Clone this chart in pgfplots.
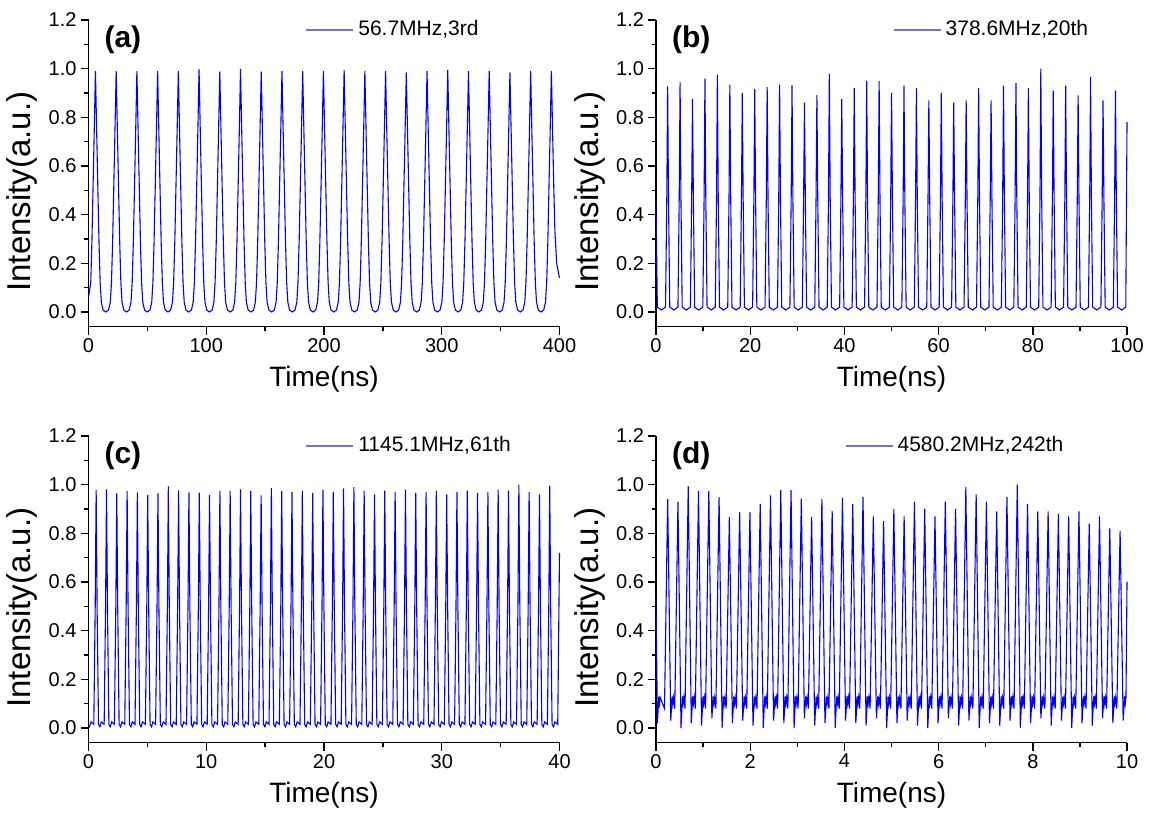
\documentclass[border=0pt]{standalone}
\usepackage{fontspec}
\setmainfont{Liberation Sans}
\usepackage{pgfplots}
\pgfplotsset{compat=1.18}
\definecolor{legblue}{RGB}{110,110,255}

\pgfplotsset{
  panel/.style={
    width=235.5pt, height=153.3pt, scale only axis,
    axis x line*=bottom, axis y line*=left,
    axis line style={line width=0.8pt, black},
    ymin=-0.06, ymax=1.2, ytick={0,0.2,...,1.2},
    minor y tick num=1, minor x tick num=1,
    tick align=outside, major tick length=4pt, minor tick length=2.25pt,
    every tick/.style={black, line width=0.7pt},
    tick label style={font=\fontsize{10}{12}\selectfont},
    xticklabel shift=-1.8pt, yticklabel shift=-1.5pt,
    /pgf/number format/assume math mode=true,
    yticklabel style={/pgf/number format/fixed, /pgf/number format/fixed zerofill, /pgf/number format/precision=1},
    xlabel={Time(ns)}, ylabel={Intensity(a.u.)},
    xlabel style={at={(axis description cs:0.5,-0.173)}, anchor=center, font=\fontsize{14}{16}\selectfont},
    ylabel style={at={(axis description cs:-0.141,0.44)}, anchor=center, font=\fontsize{16.5}{18}\selectfont},
    legend style={draw=none, fill=none, inner sep=0pt,
      font=\fontsize{10.5}{12}\selectfont, anchor=west},
    legend image code/.code={\draw[color=legblue, line width=0.9pt] (0pt,0pt) -- (23.5pt,0pt);},
    clip=false,
  },
  trace/.style={blue, line width=0.55pt},
}
\tikzset{tag/.style={anchor=west, font=\bfseries\fontsize{15}{17}\selectfont}}

\begin{document}
\begin{tikzpicture}
\useasboundingbox (0,0) rectangle (574.5pt,416.5pt);

% (a) 56.7 MHz
\begin{axis}[panel, at={(44.25pt,253.2pt)}, anchor=south west,
  xmin=0, xmax=400, xtick={0,100,...,400},
  legend style={at={(axis description cs:0.46,0.968)}}]
\addplot[trace] coordinates {
(0,0.06)(1.9,0.12)(2.9,0.29)(3.9,0.52)(4.9,0.75)(5.9,0.99)(6.9,0.75)(7.9,0.52)(8.9,0.29)(9.9,0.12)(10.9,0.04)(12.4,0.008)(14.7,0)
(17.0,0.008)(18.5,0.04)(19.5,0.12)(20.5,0.29)(21.5,0.52)(22.5,0.75)(23.5,0.99)(24.5,0.75)(25.5,0.52)(26.5,0.29)(27.5,0.12)(28.5,0.04)(30.0,0.008)(32.3,0)
(34.6,0.008)(36.1,0.04)(37.1,0.12)(38.1,0.29)(39.1,0.52)(40.1,0.75)(41.1,0.99)(42.1,0.75)(43.1,0.52)(44.1,0.29)(45.1,0.12)(46.1,0.04)(47.6,0.008)(49.9,0)
(52.2,0.008)(53.7,0.04)(54.7,0.12)(55.7,0.29)(56.7,0.52)(57.7,0.75)(58.7,0.99)(59.7,0.75)(60.7,0.52)(61.7,0.29)(62.7,0.12)(63.7,0.04)(65.2,0.008)(67.5,0)
(69.8,0.008)(71.3,0.04)(72.3,0.12)(73.3,0.29)(74.3,0.52)(75.3,0.75)(76.3,0.99)(77.3,0.75)(78.3,0.52)(79.3,0.29)(80.3,0.12)(81.3,0.04)(82.8,0.008)(85.1,0)
(87.4,0.008)(88.9,0.04)(89.9,0.12)(90.9,0.29)(91.9,0.52)(92.9,0.75)(93.9,0.998)(94.9,0.75)(95.9,0.52)(96.9,0.29)(97.9,0.12)(98.9,0.04)(100.4,0.008)(102.7,0)
(105.0,0.008)(106.5,0.04)(107.5,0.12)(108.5,0.29)(109.5,0.52)(110.5,0.75)(111.5,0.988)(112.5,0.75)(113.5,0.52)(114.5,0.29)(115.5,0.12)(116.5,0.04)(118.0,0.008)(120.3,0)
(122.6,0.008)(124.1,0.04)(125.1,0.12)(126.1,0.29)(127.1,0.52)(128.1,0.75)(129.1,0.998)(130.1,0.75)(131.1,0.52)(132.1,0.29)(133.1,0.12)(134.1,0.04)(135.6,0.008)(137.9,0)
(140.2,0.008)(141.7,0.04)(142.7,0.12)(143.7,0.29)(144.7,0.52)(145.7,0.75)(146.7,0.988)(147.7,0.75)(148.7,0.52)(149.7,0.29)(150.7,0.12)(151.7,0.04)(153.2,0.008)(155.5,0)
(157.8,0.008)(159.3,0.04)(160.3,0.12)(161.3,0.29)(162.3,0.52)(163.3,0.75)(164.3,0.99)(165.3,0.75)(166.3,0.52)(167.3,0.29)(168.3,0.12)(169.3,0.04)(170.8,0.008)(173.1,0)
(175.4,0.008)(176.9,0.04)(177.9,0.12)(178.9,0.29)(179.9,0.52)(180.9,0.75)(181.9,0.99)(182.9,0.75)(183.9,0.52)(184.9,0.29)(185.9,0.12)(186.9,0.04)(188.4,0.008)(190.7,0)
(193.0,0.008)(194.5,0.04)(195.5,0.12)(196.5,0.29)(197.5,0.52)(198.5,0.75)(199.5,0.99)(200.5,0.75)(201.5,0.52)(202.5,0.29)(203.5,0.12)(204.5,0.04)(206.0,0.008)(208.3,0)
(210.6,0.008)(212.1,0.04)(213.1,0.12)(214.1,0.29)(215.1,0.52)(216.1,0.75)(217.1,0.995)(218.1,0.75)(219.1,0.52)(220.1,0.29)(221.1,0.12)(222.1,0.04)(223.6,0.008)(225.9,0)
(228.2,0.008)(229.7,0.04)(230.7,0.12)(231.7,0.29)(232.7,0.52)(233.7,0.75)(234.7,0.99)(235.7,0.75)(236.7,0.52)(237.7,0.29)(238.7,0.12)(239.7,0.04)(241.2,0.008)(243.5,0)
(245.8,0.008)(247.3,0.04)(248.3,0.12)(249.3,0.29)(250.3,0.52)(251.3,0.75)(252.3,0.99)(253.3,0.75)(254.3,0.52)(255.3,0.29)(256.3,0.12)(257.3,0.04)(258.8,0.008)(261.1,0)
(263.4,0.008)(264.9,0.04)(265.9,0.12)(266.9,0.29)(267.9,0.52)(268.9,0.75)(269.9,0.985)(270.9,0.75)(271.9,0.52)(272.9,0.29)(273.9,0.12)(274.9,0.04)(276.4,0.008)(278.7,0)
(281.0,0.008)(282.5,0.04)(283.5,0.12)(284.5,0.29)(285.5,0.52)(286.5,0.75)(287.5,0.99)(288.5,0.75)(289.5,0.52)(290.5,0.29)(291.5,0.12)(292.5,0.04)(294.0,0.008)(296.3,0)
(298.6,0.008)(300.1,0.04)(301.1,0.12)(302.1,0.29)(303.1,0.52)(304.1,0.75)(305.1,0.995)(306.1,0.75)(307.1,0.52)(308.1,0.29)(309.1,0.12)(310.1,0.04)(311.6,0.008)(313.9,0)
(316.2,0.008)(317.7,0.04)(318.7,0.12)(319.7,0.29)(320.7,0.52)(321.7,0.75)(322.7,0.99)(323.7,0.75)(324.7,0.52)(325.7,0.29)(326.7,0.12)(327.7,0.04)(329.2,0.008)(331.5,0)
(333.8,0.008)(335.3,0.04)(336.3,0.12)(337.3,0.29)(338.3,0.52)(339.3,0.75)(340.3,0.99)(341.3,0.75)(342.3,0.52)(343.3,0.29)(344.3,0.12)(345.3,0.04)(346.8,0.008)(349.1,0)
(351.4,0.008)(352.9,0.04)(353.9,0.12)(354.9,0.29)(355.9,0.52)(356.9,0.75)(357.9,0.985)(358.9,0.75)(359.9,0.52)(360.9,0.29)(361.9,0.12)(362.9,0.04)(364.4,0.008)(366.7,0)
(369.0,0.008)(370.5,0.04)(371.5,0.12)(372.5,0.29)(373.5,0.52)(374.5,0.75)(375.5,0.99)(376.5,0.75)(377.5,0.52)(378.5,0.29)(379.5,0.12)(380.5,0.04)(382.0,0.008)(384.3,0)
(386.6,0.008)(388.1,0.04)(389.1,0.12)(390.1,0.29)(391.1,0.52)(392.1,0.75)(393.1,0.99)(394.1,0.75)(395.1,0.52)(396.1,0.33)(397.6,0.20)(400,0.14)
};
\addlegendentry{56.7MHz,3rd}
\node[tag] at (axis description cs:0.019,0.935) {(a)};
\end{axis}

% (b) 378.6 MHz
\begin{axis}[panel, at={(328pt,253.2pt)}, anchor=south west,
  xmin=0, xmax=100, xtick={0,20,...,100},
  legend style={at={(axis description cs:0.502,0.968)}}]
\addplot[trace] coordinates {
(0,0.45)(0.28,0.02)(1.15,0.008)
(2.02,0.02)(2.29,0.47)(2.47,0.927)(2.65,0.47)(2.92,0.02)(3.79,0.008)
(4.66,0.02)(4.93,0.47)(5.11,0.944)(5.29,0.47)(5.56,0.02)(6.43,0.008)
(7.30,0.02)(7.57,0.47)(7.75,0.875)(7.93,0.47)(8.20,0.02)(9.07,0.008)
(9.94,0.02)(10.21,0.47)(10.39,0.959)(10.57,0.47)(10.84,0.02)(11.71,0.008)
(12.58,0.02)(12.85,0.47)(13.03,0.975)(13.21,0.47)(13.48,0.02)(14.35,0.008)
(15.23,0.02)(15.50,0.47)(15.68,0.934)(15.86,0.47)(16.13,0.02)(17.00,0.008)
(17.87,0.02)(18.14,0.47)(18.32,0.90)(18.50,0.47)(18.77,0.02)(19.64,0.008)
(20.51,0.02)(20.78,0.47)(20.96,0.916)(21.14,0.47)(21.41,0.02)(22.28,0.008)
(23.15,0.02)(23.42,0.47)(23.60,0.925)(23.78,0.47)(24.05,0.02)(24.92,0.008)
(25.79,0.02)(26.06,0.47)(26.24,0.934)(26.42,0.47)(26.69,0.02)(27.56,0.008)
(28.43,0.02)(28.70,0.47)(28.88,0.931)(29.06,0.47)(29.33,0.02)(30.20,0.008)
(31.07,0.02)(31.34,0.47)(31.52,0.86)(31.70,0.47)(31.97,0.02)(32.84,0.008)
(33.71,0.02)(33.98,0.47)(34.16,0.891)(34.34,0.47)(34.61,0.02)(35.48,0.008)
(36.35,0.02)(36.62,0.47)(36.80,0.979)(36.98,0.47)(37.25,0.02)(38.12,0.008)
(38.99,0.02)(39.26,0.47)(39.44,0.875)(39.62,0.47)(39.89,0.02)(40.76,0.008)
(41.64,0.02)(41.91,0.47)(42.09,0.92)(42.27,0.47)(42.54,0.02)(43.41,0.008)
(44.28,0.02)(44.55,0.47)(44.73,0.95)(44.91,0.47)(45.18,0.02)(46.05,0.008)
(46.92,0.02)(47.19,0.47)(47.37,0.95)(47.55,0.47)(47.82,0.02)(48.69,0.008)
(49.56,0.02)(49.83,0.47)(50.01,0.90)(50.19,0.47)(50.46,0.02)(51.33,0.008)
(52.20,0.02)(52.47,0.47)(52.65,0.93)(52.83,0.47)(53.10,0.02)(53.97,0.008)
(54.84,0.02)(55.11,0.47)(55.29,0.92)(55.47,0.47)(55.74,0.02)(56.61,0.008)
(57.48,0.02)(57.75,0.47)(57.93,0.87)(58.11,0.47)(58.38,0.02)(59.25,0.008)
(60.12,0.02)(60.39,0.47)(60.57,0.90)(60.75,0.47)(61.02,0.02)(61.89,0.008)
(62.76,0.02)(63.03,0.47)(63.21,0.86)(63.39,0.47)(63.66,0.02)(64.53,0.008)
(65.40,0.02)(65.67,0.47)(65.85,0.87)(66.03,0.47)(66.30,0.02)(67.17,0.008)
(68.05,0.02)(68.32,0.47)(68.50,0.92)(68.68,0.47)(68.95,0.02)(69.82,0.008)
(70.69,0.02)(70.96,0.47)(71.14,0.87)(71.32,0.47)(71.59,0.02)(72.46,0.008)
(73.33,0.02)(73.60,0.47)(73.78,0.93)(73.96,0.47)(74.23,0.02)(75.10,0.008)
(75.97,0.02)(76.24,0.47)(76.42,0.94)(76.60,0.47)(76.87,0.02)(77.74,0.008)
(78.61,0.02)(78.88,0.47)(79.06,0.92)(79.24,0.47)(79.51,0.02)(80.38,0.008)
(81.25,0.02)(81.52,0.47)(81.70,1.0)(81.88,0.47)(82.15,0.02)(83.02,0.008)
(83.89,0.02)(84.16,0.47)(84.34,0.91)(84.52,0.47)(84.79,0.02)(85.66,0.008)
(86.53,0.02)(86.80,0.47)(86.98,0.93)(87.16,0.47)(87.43,0.02)(88.30,0.008)
(89.17,0.02)(89.44,0.47)(89.62,0.89)(89.80,0.47)(90.07,0.02)(90.94,0.008)
(91.81,0.02)(92.08,0.47)(92.26,0.965)(92.44,0.47)(92.71,0.02)(93.58,0.008)
(94.46,0.02)(94.73,0.47)(94.91,0.87)(95.09,0.47)(95.36,0.02)(96.23,0.008)
(97.10,0.02)(97.37,0.47)(97.55,0.91)(97.73,0.47)(98.00,0.02)(98.87,0.008)
(99.74,0.02)(100,0.78)
};
\addlegendentry{378.6MHz,20th}
\node[tag] at (axis description cs:0.019,0.935) {(b)};
\end{axis}

% (c) 1145.1 MHz
\begin{axis}[panel, at={(44.25pt,45.2pt)}, anchor=south west,
  xmin=0, xmax=40, xtick={0,10,...,40},
  legend style={at={(axis description cs:0.46,0.968)}}]
\addplot[trace] coordinates {
(0,0.01)(0.09,0.005)(0.21,0.025)
(0.45,0.015)(0.57,0.5)(0.65,0.979)(0.73,0.5)(0.85,0.015)(0.97,0.005)(1.09,0.025)
(1.33,0.015)(1.45,0.5)(1.53,0.981)(1.61,0.5)(1.73,0.015)(1.85,0.005)(1.97,0.025)
(2.20,0.015)(2.32,0.5)(2.40,0.964)(2.48,0.5)(2.60,0.015)(2.72,0.005)(2.84,0.025)
(3.08,0.015)(3.20,0.5)(3.28,0.974)(3.36,0.5)(3.48,0.015)(3.60,0.005)(3.72,0.025)
(3.95,0.015)(4.07,0.5)(4.15,0.967)(4.23,0.5)(4.35,0.015)(4.47,0.005)(4.59,0.025)
(4.83,0.015)(4.95,0.5)(5.03,0.958)(5.11,0.5)(5.23,0.015)(5.35,0.005)(5.47,0.025)
(5.70,0.015)(5.82,0.5)(5.90,0.964)(5.98,0.5)(6.10,0.015)(6.22,0.005)(6.34,0.025)
(6.58,0.015)(6.70,0.5)(6.78,0.993)(6.86,0.5)(6.98,0.015)(7.10,0.005)(7.22,0.025)
(7.45,0.015)(7.57,0.5)(7.65,0.977)(7.73,0.5)(7.85,0.015)(7.97,0.005)(8.09,0.025)
(8.33,0.015)(8.45,0.5)(8.53,0.968)(8.61,0.5)(8.73,0.015)(8.85,0.005)(8.97,0.025)
(9.21,0.015)(9.33,0.5)(9.41,0.967)(9.49,0.5)(9.61,0.015)(9.73,0.005)(9.85,0.025)
(10.08,0.015)(10.20,0.5)(10.28,0.958)(10.36,0.5)(10.48,0.015)(10.60,0.005)(10.72,0.025)
(10.96,0.015)(11.08,0.5)(11.16,0.974)(11.24,0.5)(11.36,0.015)(11.48,0.005)(11.60,0.025)
(11.83,0.015)(11.95,0.5)(12.03,0.974)(12.11,0.5)(12.23,0.015)(12.35,0.005)(12.47,0.025)
(12.71,0.015)(12.83,0.5)(12.91,0.981)(12.99,0.5)(13.11,0.015)(13.23,0.005)(13.35,0.025)
(13.58,0.015)(13.70,0.5)(13.78,0.974)(13.86,0.5)(13.98,0.015)(14.10,0.005)(14.22,0.025)
(14.46,0.015)(14.58,0.5)(14.66,0.956)(14.74,0.5)(14.86,0.015)(14.98,0.005)(15.10,0.025)
(15.33,0.015)(15.45,0.5)(15.53,0.986)(15.61,0.5)(15.73,0.015)(15.85,0.005)(15.97,0.025)
(16.21,0.015)(16.33,0.5)(16.41,0.973)(16.49,0.5)(16.61,0.015)(16.73,0.005)(16.85,0.025)
(17.08,0.015)(17.20,0.5)(17.28,0.97)(17.36,0.5)(17.48,0.015)(17.60,0.005)(17.72,0.025)
(17.96,0.015)(18.08,0.5)(18.16,0.975)(18.24,0.5)(18.36,0.015)(18.48,0.005)(18.60,0.025)
(18.84,0.015)(18.96,0.5)(19.04,0.965)(19.12,0.5)(19.24,0.015)(19.36,0.005)(19.48,0.025)
(19.71,0.015)(19.83,0.5)(19.91,0.98)(19.99,0.5)(20.11,0.015)(20.23,0.005)(20.35,0.025)
(20.59,0.015)(20.71,0.5)(20.79,0.97)(20.87,0.5)(20.99,0.015)(21.11,0.005)(21.23,0.025)
(21.46,0.015)(21.58,0.5)(21.66,0.985)(21.74,0.5)(21.86,0.015)(21.98,0.005)(22.10,0.025)
(22.34,0.015)(22.46,0.5)(22.54,0.99)(22.62,0.5)(22.74,0.015)(22.86,0.005)(22.98,0.025)
(23.21,0.015)(23.33,0.5)(23.41,0.975)(23.49,0.5)(23.61,0.015)(23.73,0.005)(23.85,0.025)
(24.09,0.015)(24.21,0.5)(24.29,0.96)(24.37,0.5)(24.49,0.015)(24.61,0.005)(24.73,0.025)
(24.96,0.015)(25.08,0.5)(25.16,0.975)(25.24,0.5)(25.36,0.015)(25.48,0.005)(25.60,0.025)
(25.84,0.015)(25.96,0.5)(26.04,0.97)(26.12,0.5)(26.24,0.015)(26.36,0.005)(26.48,0.025)
(26.72,0.015)(26.84,0.5)(26.92,0.98)(27.00,0.5)(27.12,0.015)(27.24,0.005)(27.36,0.025)
(27.59,0.015)(27.71,0.5)(27.79,0.965)(27.87,0.5)(27.99,0.015)(28.11,0.005)(28.23,0.025)
(28.47,0.015)(28.59,0.5)(28.67,0.97)(28.75,0.5)(28.87,0.015)(28.99,0.005)(29.11,0.025)
(29.34,0.015)(29.46,0.5)(29.54,0.975)(29.62,0.5)(29.74,0.015)(29.86,0.005)(29.98,0.025)
(30.22,0.015)(30.34,0.5)(30.42,0.96)(30.50,0.5)(30.62,0.015)(30.74,0.005)(30.86,0.025)
(31.09,0.015)(31.21,0.5)(31.29,0.97)(31.37,0.5)(31.49,0.015)(31.61,0.005)(31.73,0.025)
(31.97,0.015)(32.09,0.5)(32.17,0.975)(32.25,0.5)(32.37,0.015)(32.49,0.005)(32.61,0.025)
(32.84,0.015)(32.96,0.5)(33.04,0.965)(33.12,0.5)(33.24,0.015)(33.36,0.005)(33.48,0.025)
(33.72,0.015)(33.84,0.5)(33.92,0.97)(34.00,0.5)(34.12,0.015)(34.24,0.005)(34.36,0.025)
(34.59,0.015)(34.71,0.5)(34.79,0.98)(34.87,0.5)(34.99,0.015)(35.11,0.005)(35.23,0.025)
(35.47,0.015)(35.59,0.5)(35.67,0.975)(35.75,0.5)(35.87,0.015)(35.99,0.005)(36.11,0.025)
(36.35,0.015)(36.47,0.5)(36.55,1.0)(36.63,0.5)(36.75,0.015)(36.87,0.005)(36.99,0.025)
(37.22,0.015)(37.34,0.5)(37.42,0.97)(37.50,0.5)(37.62,0.015)(37.74,0.005)(37.86,0.025)
(38.10,0.015)(38.22,0.5)(38.30,0.96)(38.38,0.5)(38.50,0.015)(38.62,0.005)(38.74,0.025)
(38.97,0.015)(39.09,0.5)(39.17,0.995)(39.25,0.5)(39.37,0.015)(39.49,0.005)(39.61,0.025)
(39.85,0.015)(40,0.72)
};
\addlegendentry{1145.1MHz,61th}
\node[tag] at (axis description cs:0.019,0.935) {(c)};
\end{axis}

% (d) 4580.2 MHz
\begin{axis}[panel, at={(328pt,45.2pt)}, anchor=south west,
  xmin=0, xmax=10, xtick={0,2,...,10},
  legend style={at={(axis description cs:0.40,0.968)}}]
\addplot[trace] coordinates {
(0,0.53)(0.03,0.02)(0.06,0.13)(0.075,0.10)(0.09,0.125)(0.18,0.08)
(0.248,0.942)(0.313,0.03)(0.343,0.13)(0.358,0.10)(0.373,0.125)(0.398,0.08)
(0.466,0.929)(0.531,0.0)(0.561,0.13)(0.576,0.10)(0.591,0.125)(0.616,0.08)
(0.684,0.993)(0.749,0.02)(0.779,0.13)(0.794,0.10)(0.809,0.125)(0.834,0.08)
(0.902,0.974)(0.967,0.01)(0.997,0.13)(1.012,0.10)(1.027,0.125)(1.052,0.08)
(1.121,0.974)(1.186,0.04)(1.216,0.13)(1.231,0.10)(1.246,0.125)(1.271,0.08)
(1.339,0.949)(1.404,0.0)(1.434,0.13)(1.449,0.10)(1.464,0.125)(1.489,0.08)
(1.557,0.867)(1.622,0.02)(1.652,0.13)(1.667,0.10)(1.682,0.125)(1.707,0.08)
(1.776,0.887)(1.841,0.03)(1.871,0.13)(1.886,0.10)(1.901,0.125)(1.926,0.08)
(1.994,0.887)(2.059,0.01)(2.089,0.13)(2.104,0.10)(2.119,0.125)(2.144,0.08)
(2.212,0.921)(2.277,0.0)(2.307,0.13)(2.322,0.10)(2.337,0.125)(2.362,0.08)
(2.431,0.956)(2.496,0.03)(2.526,0.13)(2.541,0.10)(2.556,0.125)(2.581,0.08)
(2.649,0.977)(2.714,0.02)(2.744,0.13)(2.759,0.10)(2.774,0.125)(2.799,0.08)
(2.867,0.977)(2.932,0.0)(2.962,0.13)(2.977,0.10)(2.992,0.125)(3.017,0.08)
(3.085,0.943)(3.150,0.04)(3.180,0.13)(3.195,0.10)(3.210,0.125)(3.235,0.08)
(3.304,0.868)(3.369,0.01)(3.399,0.13)(3.414,0.10)(3.429,0.125)(3.454,0.08)
(3.522,0.942)(3.587,0.02)(3.617,0.13)(3.632,0.10)(3.647,0.125)(3.672,0.08)
(3.740,0.892)(3.805,0.0)(3.835,0.13)(3.850,0.10)(3.865,0.125)(3.890,0.08)
(3.959,0.946)(4.024,0.03)(4.054,0.13)(4.069,0.10)(4.084,0.125)(4.109,0.08)
(4.177,0.92)(4.242,0.02)(4.272,0.13)(4.287,0.10)(4.302,0.125)(4.327,0.08)
(4.395,0.95)(4.460,0.01)(4.490,0.13)(4.505,0.10)(4.520,0.125)(4.545,0.08)
(4.614,0.87)(4.679,0.04)(4.709,0.13)(4.724,0.10)(4.739,0.125)(4.764,0.08)
(4.832,0.85)(4.897,0.0)(4.927,0.13)(4.942,0.10)(4.957,0.125)(4.982,0.08)
(5.050,0.90)(5.115,0.02)(5.145,0.13)(5.160,0.10)(5.175,0.125)(5.200,0.08)
(5.268,0.87)(5.333,0.03)(5.363,0.13)(5.378,0.10)(5.393,0.125)(5.418,0.08)
(5.487,0.93)(5.552,0.01)(5.582,0.13)(5.597,0.10)(5.612,0.125)(5.637,0.08)
(5.705,0.90)(5.770,0.0)(5.800,0.13)(5.815,0.10)(5.830,0.125)(5.855,0.08)
(5.923,0.87)(5.988,0.02)(6.018,0.13)(6.033,0.10)(6.048,0.125)(6.073,0.08)
(6.142,0.93)(6.207,0.04)(6.237,0.13)(6.252,0.10)(6.267,0.125)(6.292,0.08)
(6.360,0.90)(6.425,0.01)(6.455,0.13)(6.470,0.10)(6.485,0.125)(6.510,0.08)
(6.578,0.99)(6.643,0.03)(6.673,0.13)(6.688,0.10)(6.703,0.125)(6.728,0.08)
(6.797,0.96)(6.862,0.0)(6.892,0.13)(6.907,0.10)(6.922,0.125)(6.947,0.08)
(7.015,0.93)(7.080,0.02)(7.110,0.13)(7.125,0.10)(7.140,0.125)(7.165,0.08)
(7.233,0.89)(7.298,0.01)(7.328,0.13)(7.343,0.10)(7.358,0.125)(7.383,0.08)
(7.451,0.95)(7.516,0.03)(7.546,0.13)(7.561,0.10)(7.576,0.125)(7.601,0.08)
(7.670,1.0)(7.735,0.0)(7.765,0.13)(7.780,0.10)(7.795,0.125)(7.820,0.08)
(7.888,0.92)(7.953,0.02)(7.983,0.13)(7.998,0.10)(8.013,0.125)(8.038,0.08)
(8.106,0.89)(8.171,0.04)(8.201,0.13)(8.216,0.10)(8.231,0.125)(8.256,0.08)
(8.325,0.89)(8.390,0.01)(8.420,0.13)(8.435,0.10)(8.450,0.125)(8.475,0.08)
(8.543,0.88)(8.608,0.03)(8.638,0.13)(8.653,0.10)(8.668,0.125)(8.693,0.08)
(8.761,0.87)(8.826,0.0)(8.856,0.13)(8.871,0.10)(8.886,0.125)(8.911,0.08)
(8.980,0.89)(9.045,0.02)(9.075,0.13)(9.090,0.10)(9.105,0.125)(9.130,0.08)
(9.198,0.84)(9.263,0.01)(9.293,0.13)(9.308,0.10)(9.323,0.125)(9.348,0.08)
(9.416,0.87)(9.481,0.04)(9.511,0.13)(9.526,0.10)(9.541,0.125)(9.566,0.08)
(9.634,0.82)(9.699,0.02)(9.729,0.13)(9.744,0.10)(9.759,0.125)(9.784,0.08)
(9.853,0.81)(9.918,0.03)(9.948,0.13)(9.963,0.10)(9.978,0.125)(10,0.6)
};
\addlegendentry{4580.2MHz,242th}
\node[tag] at (axis description cs:0.019,0.935) {(d)};
\end{axis}
\end{tikzpicture}
\end{document}
